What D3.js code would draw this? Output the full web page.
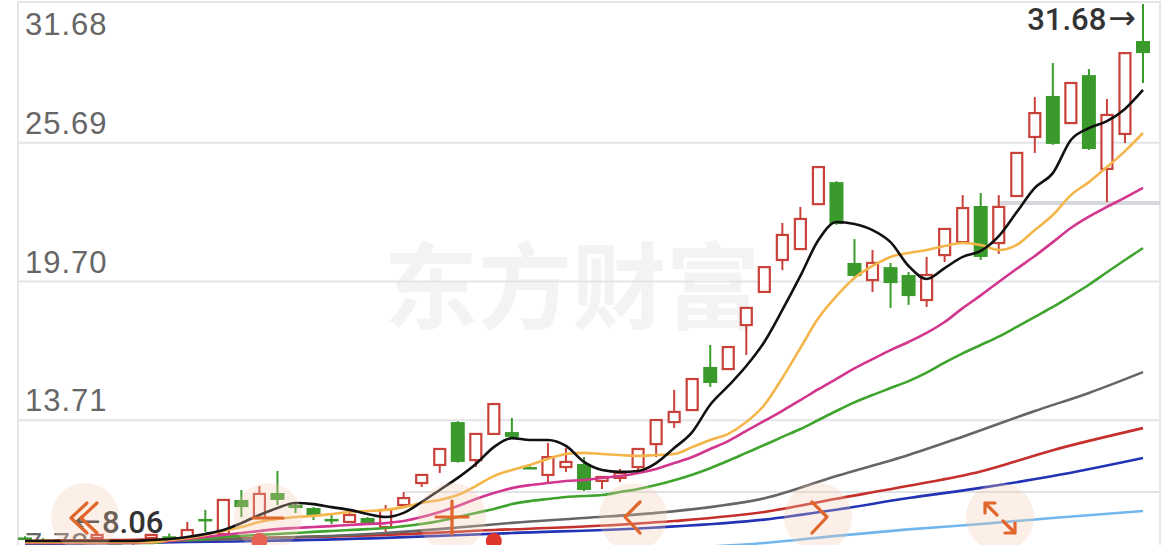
<!DOCTYPE html>
<html><head><meta charset="utf-8">
<script src="https://cdn.jsdelivr.net/npm/d3@7"></script>
<style>html,body{margin:0;padding:0;background:#fff;overflow:hidden}</style>
</head><body>
<svg id="c" width="1168" height="545"></svg>
<script>
// ---- data (prices) ----
const open  = [8.65,8.55,8.48,8.45,8.63,8.45,8.42,8.63,8.70,8.54, 9.45,8.80,10.27,9.49,10.57,10.05,9.92,9.45,9.32,9.49, 9.10,10.05,11.00,11.78,13.63,11.99,13.12,13.20,11.69,11.35, 11.69,11.82,11.09,11.22,11.69,12.68,13.63,14.15,16.01,15.92, 17.82,19.25,20.63,21.10,23.04,23.99,20.50,19.76,20.32,19.98, 18.90,20.84,21.40,22.96,21.36,23.39,25.94,27.71,26.54,28.61, 24.56,26.07,30.08];
const high  = [8.70,8.62,8.58,8.55,8.78,8.52,8.55,8.80,8.82,9.32, 9.84,10.27,10.70,10.87,11.52,10.18,9.96,9.62,9.75,9.53, 10.05,10.61,11.38,12.50,13.67,13.15,14.45,13.81,11.72,12.73, 12.52,12.12,11.30,11.61,12.50,13.75,15.02,15.52,16.96,16.90, 18.60,20.35,22.23,22.92,24.68,24.03,21.53,21.06,20.50,20.11, 20.76,22.00,23.43,23.52,23.43,25.28,27.66,29.13,28.30,28.87, 27.58,29.60,31.68];
const low   = [8.58,8.45,8.35,8.06,8.55,8.35,8.33,8.58,8.60,8.50, 8.89,8.76,9.53,9.49,10.05,9.71,9.40,9.23,9.27,9.20, 8.89,10.00,10.83,11.43,11.88,11.69,13.08,12.95,11.62,11.04, 11.48,10.66,10.74,11.04,11.56,12.12,13.38,14.12,15.15,15.89, 16.53,19.22,20.19,21.06,23.00,22.15,19.90,19.25,18.56,18.69, 18.60,20.54,21.36,20.63,20.89,23.35,25.25,25.60,26.50,25.38, 23.13,25.68,28.27];
const close = [8.62,8.50,8.52,8.40,8.76,8.41,8.50,8.76,8.66,8.97, 9.36,10.27,9.96,10.53,10.27,9.92,9.62,9.36,9.62,9.27, 9.84,10.35,11.35,12.47,11.91,13.12,14.41,12.99,11.65,12.12, 11.91,10.70,11.26,11.43,12.47,13.72,14.07,15.49,15.32,16.87, 18.56,20.32,21.71,22.40,24.64,22.18,19.94,20.50,19.63,19.07, 19.98,21.97,22.87,20.76,22.92,25.25,26.97,25.64,28.27,25.42, 26.89,29.56,29.56];

const ma5  = [8.50,8.50,8.50,8.50,8.50,8.50,8.50,8.54,8.58,8.67, 8.80,8.97,9.27,9.62,9.92,10.14,10.09,9.96,9.84,9.66, 9.53,9.71,10.18,10.70,11.22,11.82,12.55,12.94,12.86,12.86, 12.60,11.91,11.56,11.48,11.52,11.86,12.51,13.20,14.38,15.19, 16.05,17.09,18.47,19.94,21.49,22.27,22.18,21.92,21.40,20.37, 19.81,20.28,20.76,21.02,21.66,22.70,23.74,24.38,25.81,26.32, 26.62,27.15,27.97];
const ma10 = [8.45,8.45,8.45,8.45,8.45,8.45,8.45,8.45,8.54,8.63, 8.76,8.93,9.10,9.32,9.45,9.53,9.58,9.66,9.75,9.79, 9.84,9.96,10.14,10.27,10.48,10.87,11.30,11.56,11.78,12.04, 12.25,12.30,12.25,12.21,12.17,12.21,12.25,12.55,12.86,13.12, 13.63,14.37,15.54,16.83,18.12,19.07,19.85,20.37,20.76,20.93, 21.06,21.23,21.36,21.28,21.06,21.28,21.92,22.57,23.43,23.99, 24.64,25.33,26.11];
const ma20 = [8.41,8.41,8.41,8.41,8.41,8.41,8.41,8.45,8.50,8.58, 8.67,8.76,8.84,8.93,9.01,9.06,9.10,9.14,9.19,9.23, 9.27,9.36,9.53,9.75,10.01,10.31,10.57,10.78,10.91,11.00, 11.09,11.13,11.22,11.30,11.43,11.61,11.86,12.12,12.47,12.81, 13.25,13.68,14.12,14.58,15.05,15.50,15.95,16.35,16.74,17.09, 17.48,17.95,18.55,19.10,19.68,20.25,20.80,21.40,22.01,22.50, 22.92,23.32,23.74];
const ma30 = [8.41,8.41,8.41,8.41,8.41,8.41,8.41,8.41,8.50,8.54, 8.58,8.67,8.71,8.76,8.80,8.84,8.89,8.93,8.97,9.01, 9.06,9.14,9.23,9.36,9.53,9.71,9.88,10.09,10.22,10.31, 10.40,10.44,10.48,10.61,10.74,10.91,11.12,11.36,11.64,11.96, 12.30,12.64,12.99,13.33,13.72,14.11,14.48,14.80,15.10,15.40, 15.77,16.20,16.60,16.96,17.32,17.74,18.17,18.60,19.07,19.56, 20.10,20.63,21.14];
// long averages read at a few candles: [candle index, price]
const ma60  = [[0,8.41],[10,8.54],[20,8.84],[24,9.08],[27,9.28],[31,9.49],[35,9.71],[38,9.96],[41,10.34],[45,11.30],[49,12.21],[52,13.00],[56,14.11],[59,14.89],[62,15.79]];
const ma120 = [[0,8.50],[20,8.76],[26,8.97],[31,9.12],[36,9.36],[41,9.75],[45,10.32],[49,10.88],[53,11.50],[57,12.42],[62,13.37]];
const ma250 = [[0,8.37],[20,8.63],[27,8.84],[35,9.08],[41,9.42],[45,9.85],[49,10.35],[53,10.79],[57,11.30],[62,12.08]];
const maLong = [[0,7.80],[20,7.95],[36,8.19],[41,8.41],[45,8.72],[49,9.00],[53,9.23],[57,9.49],[62,9.79]];

const tickLabels = ["31.68","25.69","19.70","13.71","7.72"];
const tickValues = [31.68,25.69,19.70,13.71,7.72];
const markerIdx = [13,26];
const refLines = [{v:23.09, from:54}, {v:10.61, from:21}];

// ---- drawing ----
const W=1168, H=545;
const svg=d3.select("#c");
const n=open.length;
const x=d3.scaleLinear().domain([0,n-1]).range([25,1143]);
const y=d3.scaleLinear().domain([7.72,31.68]).range([559,4]);
const L=18, R=1160;
const RED="#c8423a", GREEN="#3a9a2c";

// watermark
svg.append("text").attr("x",384).attr("y",322).attr("font-family","Noto Sans CJK SC").attr("font-weight",700)
  .attr("font-size",94).attr("fill","#f3f3f3").text("东方财富");

// frame
svg.append("rect").attr("x",L).attr("y",2).attr("width",R-L).attr("height",H+20).attr("fill","none").attr("stroke","#dedede").attr("stroke-width",1.5);

// grid
svg.selectAll("line.grid").data(tickValues.slice(1)).enter().append("line")
  .attr("x1",L).attr("x2",R).attr("y1",d=>y(d)).attr("y2",d=>y(d)).attr("stroke","#e4e5e9").attr("stroke-width",2);
svg.selectAll("line.ref").data(refLines).enter().append("line")
  .attr("x1",d=>x(d.from)).attr("x2",R).attr("y1",d=>y(d.v)).attr("y2",d=>y(d.v))
  .attr("stroke",(d,i)=>i==0?"#d5d7dc":"#e2e3e7").attr("stroke-width",(d,i)=>i==0?4:2);

// y labels
svg.selectAll("text.yl").data(tickValues).enter().append("text")
  .attr("x",25).attr("y",(d,i)=> i==0 ? y(d)+31 : (i==4 ? y(d)-4 : y(d)-9))
  .attr("font-family","Liberation Sans, Arial").attr("font-size",31).attr("letter-spacing",1)
  .attr("fill","#666").text((d,i)=>tickLabels[i]);

// candles
const idx=d3.range(n);
const bw=13;
const g=svg.append("g");
idx.forEach(i=>{
  const up=close[i]>=open[i];
  const cx=x(i);
  const top=y(Math.max(open[i],close[i])), bot=y(Math.min(open[i],close[i]));
  if(up){
    g.append("line").attr("x1",cx).attr("x2",cx).attr("y1",y(high[i])).attr("y2",top).attr("stroke",RED).attr("stroke-width",2);
    g.append("line").attr("x1",cx).attr("x2",cx).attr("y1",bot).attr("y2",y(low[i])).attr("stroke",RED).attr("stroke-width",2);
    g.append("rect").attr("x",cx-bw/2+1).attr("y",top).attr("width",bw-2).attr("height",Math.max(bot-top,1.5))
      .attr("fill","#fff").attr("stroke",RED).attr("stroke-width",2.2);
  } else {
    g.append("line").attr("x1",cx).attr("x2",cx).attr("y1",y(high[i])).attr("y2",y(low[i])).attr("stroke",GREEN).attr("stroke-width",2);
    g.append("rect").attr("x",cx-bw/2-0.5).attr("y",top).attr("width",bw+1).attr("height",Math.max(bot-top,2.5)).attr("fill",GREEN);
  }
});

// moving averages
const line=d3.line().x(d=>x(d[0])).y(d=>y(d[1])).curve(d3.curveMonotoneX);
const series=[
  {d:maLong, c:"#72b6ee"},
  {d:ma250, c:"#2233b5"},
  {d:ma120, c:"#c52f2c"},
  {d:ma60, c:"#666666"},
  {d:ma30.map((v,i)=>[i,v]), c:"#3fa42e"},
  {d:ma20.map((v,i)=>[i,v]), c:"#d2368f"},
  {d:ma10.map((v,i)=>[i,v]), c:"#f4b54a"},
  {d:ma5.map((v,i)=>[i,v]), c:"#111111"}
];
series.forEach(s=>{
  svg.append("path").attr("d",line(s.d)).attr("fill","none").attr("stroke",s.c).attr("stroke-width",2.6).attr("stroke-linejoin","round");
});

// event markers
svg.selectAll("circle.mk").data(markerIdx).enter().append("circle")
  .attr("cx",d=>x(d)).attr("cy",541).attr("r",8).attr("fill","#e0352b");

// high / low annotations
const hi=d3.max(high), hiI=high.indexOf(hi);
const lo=d3.min(low), loI=low.indexOf(lo);
const th=svg.append("text").attr("x",x(hiI)-7).attr("y",30).attr("text-anchor","end")
  .attr("font-family","Roboto, Liberation Sans").attr("font-size",31).attr("font-weight",500).attr("fill","#333");
th.append("tspan").text(hi.toFixed(2));
th.append("tspan").attr("font-family","DejaVu Sans").attr("font-size",33).attr("dx",2).attr("dy",-1).text("→");
const tl=svg.append("text").attr("x",x(loI)-5).attr("y",533)
  .attr("font-family","Roboto, Liberation Sans").attr("font-size",31).attr("font-weight",500).attr("fill","#333");
tl.append("tspan").attr("font-family","DejaVu Sans").attr("font-size",32).attr("dy",-1).text("←");
tl.append("tspan").attr("dy",1).attr("dx",1).text(lo.toFixed(2));

// buttons
const btns=[85,268,452,633,818,1000];
svg.selectAll("circle.bt").data(btns).enter().append("circle")
  .attr("cx",d=>d).attr("cy",517).attr("r",34).attr("fill","#f3c9ae").attr("opacity",0.3);
const O="#e0662c";
const ic=svg.append("g").attr("fill","none").attr("stroke",O).attr("stroke-width",3.2).attr("stroke-linecap","round").attr("stroke-linejoin","round");
ic.append("path").attr("d","M87 503 L71 518 L87 533 M97 503 L81 518 L97 533");
ic.append("path").attr("d","M253 518 L283 518");
ic.append("path").attr("d","M436 517 L468 517 M452 501 L452 534");
ic.append("path").attr("d","M640 502 L625 517 L640 533");
ic.append("path").attr("d","M812 502 L827 517 L812 533");
ic.append("path").attr("d","M985 503 L997 515 M985 503 L985 513 M985 503 L995 503 M1003 521 L1015 533 M1015 533 L1005 533 M1015 533 L1015 523");
</script>
</body></html>
